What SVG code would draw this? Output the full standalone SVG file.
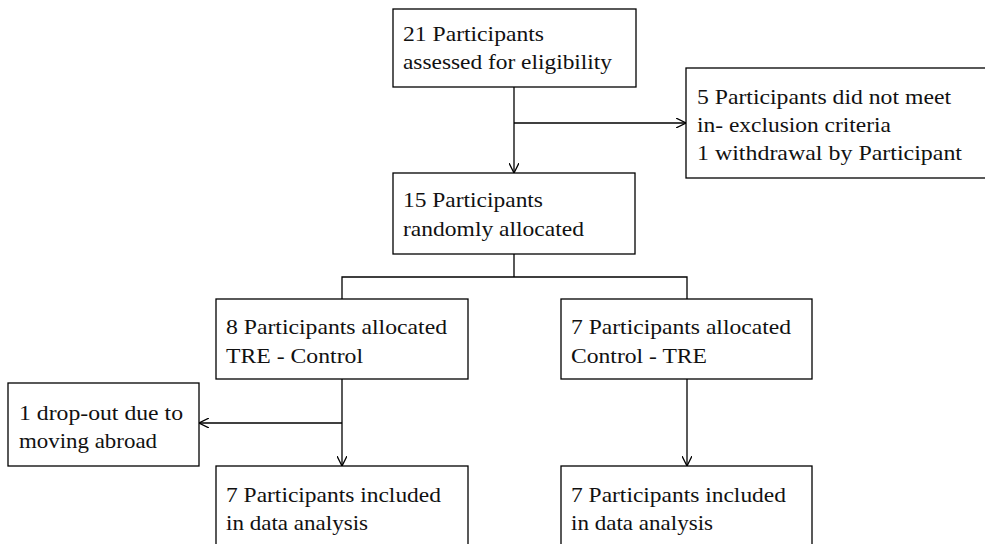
<svg xmlns="http://www.w3.org/2000/svg" width="985" height="544" viewBox="0 0 985 544">
<style>
.box{fill:#fff;stroke:#000;stroke-width:1.3}
.t{font-family:"Liberation Serif","Times New Roman","DejaVu Serif",serif;font-size:21px;fill:#111}
.c{fill:none;stroke:#000;stroke-width:1.3}
</style>
<defs>
<marker id="ah" viewBox="0 0 10 10" refX="10" refY="5" markerWidth="10" markerHeight="10" markerUnits="userSpaceOnUse" orient="auto">
<path d="M0,0 L10,5 L0,10" fill="none" stroke="#000" stroke-width="1.3"/>
</marker>
</defs>
<g id="connectors">
<path class="c" d="M514,87 V173" marker-end="url(#ah)"/>
<path class="c" d="M514,123 H686" marker-end="url(#ah)"/>
<path class="c" d="M514,254 V277 M342,299 V277 H687 V299"/>
<path class="c" d="M342,379 V466" marker-end="url(#ah)"/>
<path class="c" d="M342,423 H199" marker-end="url(#ah)"/>
<path class="c" d="M687,379 V466" marker-end="url(#ah)"/>
</g>
<g id="n1"><rect class="box" x="393" y="9" width="243" height="78"/>
<text class="t" x="403" y="41" textLength="141" lengthAdjust="spacingAndGlyphs">21 Participants</text><text class="t" x="403" y="69" textLength="209" lengthAdjust="spacingAndGlyphs">assessed for eligibility</text></g>
<g id="n2"><rect class="box" x="686" y="68" width="310" height="110"/>
<text class="t" x="697" y="104" textLength="254" lengthAdjust="spacingAndGlyphs">5 Participants did not meet</text><text class="t" x="697" y="132" textLength="194" lengthAdjust="spacingAndGlyphs">in- exclusion criteria</text><text class="t" x="697" y="160" textLength="265" lengthAdjust="spacingAndGlyphs">1 withdrawal by Participant</text></g>
<g id="n3"><rect class="box" x="393" y="173" width="242" height="81"/>
<text class="t" x="403" y="207" textLength="140" lengthAdjust="spacingAndGlyphs">15 Participants</text><text class="t" x="403" y="236" textLength="181" lengthAdjust="spacingAndGlyphs">randomly allocated</text></g>
<g id="n4"><rect class="box" x="216" y="299" width="252" height="80"/>
<text class="t" x="226" y="334" textLength="221" lengthAdjust="spacingAndGlyphs">8 Participants allocated</text><text class="t" x="226" y="363" textLength="137" lengthAdjust="spacingAndGlyphs">TRE - Control</text></g>
<g id="n5"><rect class="box" x="561" y="299" width="251" height="80"/>
<text class="t" x="571" y="334" textLength="220" lengthAdjust="spacingAndGlyphs">7 Participants allocated</text><text class="t" x="571" y="363" textLength="136" lengthAdjust="spacingAndGlyphs">Control - TRE</text></g>
<g id="n6"><rect class="box" x="8" y="383" width="191" height="83"/>
<text class="t" x="19" y="420" textLength="164" lengthAdjust="spacingAndGlyphs">1 drop-out due to</text><text class="t" x="19" y="448" textLength="138" lengthAdjust="spacingAndGlyphs">moving abroad</text></g>
<g id="n7"><rect class="box" x="216" y="466" width="252" height="90"/>
<text class="t" x="226" y="502" textLength="215" lengthAdjust="spacingAndGlyphs">7 Participants included</text><text class="t" x="226" y="530" textLength="142" lengthAdjust="spacingAndGlyphs">in data analysis</text></g>
<g id="n8"><rect class="box" x="561" y="466" width="251" height="90"/>
<text class="t" x="571" y="502" textLength="215" lengthAdjust="spacingAndGlyphs">7 Participants included</text><text class="t" x="571" y="530" textLength="142" lengthAdjust="spacingAndGlyphs">in data analysis</text></g>
</svg>
